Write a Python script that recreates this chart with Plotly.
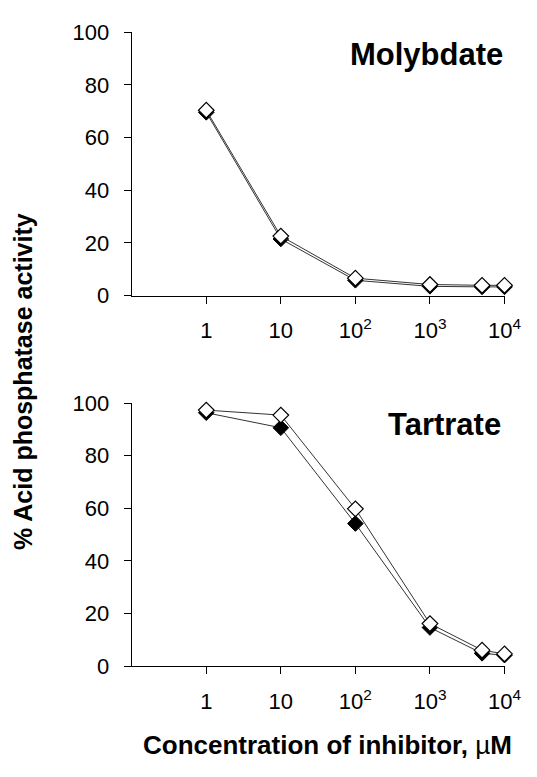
import plotly.graph_objects as go

# Inhibitor concentrations (µM)
conc = [1, 10, 100, 1000, 5000, 10000]

# % acid phosphatase activity, two preparations per inhibitor
moly_filled = [69.6, 21.5, 5.8, 3.5, 3.3, 3.3]
moly_open = [70.4, 22.6, 6.6, 4.2, 3.9, 3.9]
tart_filled = [96.3, 90.6, 54.2, 14.7, 4.9, 4.2]
tart_open = [97.3, 95.4, 59.8, 16.2, 6.1, 4.7]

tick_vals = [1, 10, 100, 1000, 10000]
tick_text = ["1", "10", "10<sup>2</sup>", "10<sup>3</sup>", "10<sup>4</sup>"]
y_ticks = [0, 20, 40, 60, 80, 100]

FONT = "Liberation Sans, Arial, sans-serif"
W, H = 537, 777

fig = go.Figure()


def add_pair(filled, opened, xa, ya):
    fig.add_trace(go.Scatter(
        x=conc, y=filled, xaxis=xa, yaxis=ya, mode="lines+markers",
        line=dict(color="#333333", width=1),
        marker=dict(symbol="diamond", size=12, color="black",
                    line=dict(color="black", width=1)),
        cliponaxis=False, showlegend=False))
    fig.add_trace(go.Scatter(
        x=conc, y=opened, xaxis=xa, yaxis=ya, mode="lines+markers",
        line=dict(color="#333333", width=1),
        marker=dict(symbol="diamond", size=12, color="white",
                    line=dict(color="black", width=1.2)),
        cliponaxis=False, showlegend=False))


add_pair(moly_filled, moly_open, "x", "y")
add_pair(tart_filled, tart_open, "x2", "y2")

x_dom = [136 / W, 521 / W]
top_dom = [1 - 293 / H, 1 - 21 / H]
bot_dom = [1 - 676 / H, 1 - 404 / H]

xaxis_style = dict(
    type="log", range=[-1, 4], domain=x_dom,
    tickvals=tick_vals, ticktext=tick_text,
    showline=True, linecolor="black", linewidth=1.2,
    ticks="outside", ticklen=7, tickcolor="black", tickwidth=1,
    ticklabelstandoff=8, ticklabeloverflow="allow",
    showgrid=False, zeroline=False,
    tickfont=dict(family=FONT, size=22, color="black"),
)
yaxis_style = dict(
    range=[0, 100], tickvals=y_ticks,
    showline=True, linecolor="black", linewidth=1.2,
    ticks="outside", ticklen=7, tickcolor="black", tickwidth=1,
    ticklabelstandoff=10,
    showgrid=False, zeroline=False,
    tickfont=dict(family=FONT, size=22, color="black"),
)

fig.update_layout(
    width=W, height=H,
    margin=dict(l=0, r=0, t=0, b=0),
    paper_bgcolor="white", plot_bgcolor="white",
    xaxis=dict(**xaxis_style, anchor="y"),
    yaxis=dict(**yaxis_style, domain=top_dom, anchor="x"),
    xaxis2=dict(**xaxis_style, anchor="y2"),
    yaxis2=dict(**yaxis_style, domain=bot_dom, anchor="x2"),
    annotations=[
        dict(text="<b>Molybdate</b>", xref="paper", yref="paper",
             x=521 / W, y=1 - 44 / H, xanchor="right", yanchor="middle",
             showarrow=False, font=dict(family=FONT, size=31, color="black")),
        dict(text="<b>Tartrate</b>", xref="paper", yref="paper",
             x=519 / W, y=1 - 426 / H, xanchor="right", yanchor="middle",
             showarrow=False, font=dict(family=FONT, size=31, color="black")),
        dict(text="<b>% Acid phosphatase activity</b>", xref="paper", yref="paper",
             x=23 / W, y=1 - 382 / H, xanchor="center", yanchor="middle",
             textangle=-90, showarrow=False,
             font=dict(family=FONT, size=25, color="black")),
        dict(text="<b>Concentration of inhibitor, </b>µ<b>M</b>", xref="paper", yref="paper",
             x=338 / W, y=1 - 757 / H, xanchor="center", yanchor="middle",
             showarrow=False, font=dict(family=FONT, size=26, color="black")),
    ],
)

fig.write_html("out.html")
